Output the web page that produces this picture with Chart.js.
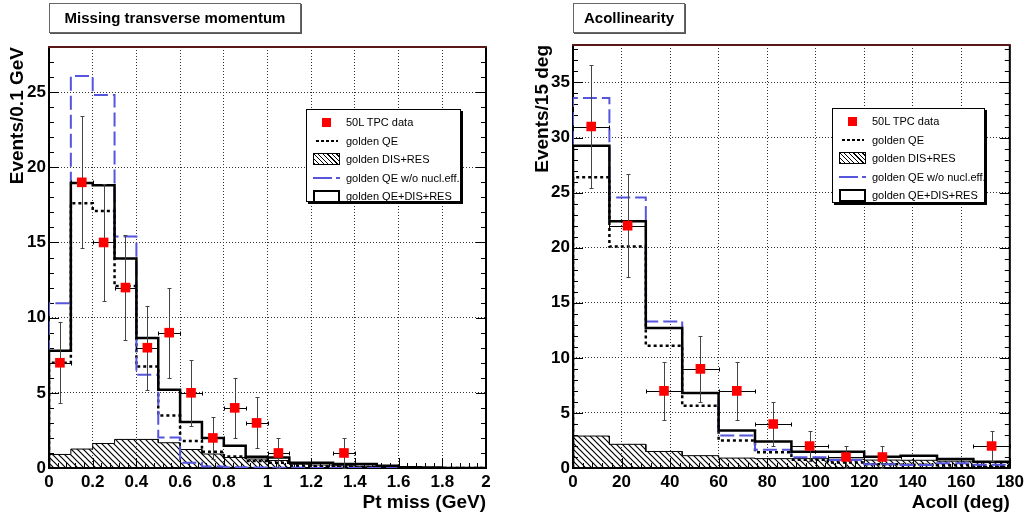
<!DOCTYPE html>
<html>
<head>
<meta charset="utf-8">
<script src="https://cdn.jsdelivr.net/npm/chart.js@4.4.1/dist/chart.umd.min.js"></script>
<style>
  body { margin: 0; background: #fff; font-family: 'Liberation Sans', Arial, sans-serif; }
  #page { position: relative; width: 1028px; height: 518px; overflow: hidden; }
  canvas { position: absolute; top: 0; }
  .title { position: absolute; top: 3px; height: 28px; line-height: 28px; border: 1px solid #666; box-shadow: 1px 1px 0 #555;
           background: #fff; font-weight: bold; font-size: 15px; text-align: center; }
  .legend { position: absolute; border: 1px solid #000; box-shadow: 2px 2px 0 #000; background: #fff; font-size: 11px;
            padding-top: 3px; box-sizing: border-box; }
  .row { position: relative; height: 18.5px; line-height: 18.5px; padding-left: 39px; white-space: nowrap; }
  .sym { position: absolute; left: 6px; top: 50%; width: 27px; }
  .sq { left: 15px; width: 9px; height: 9px; margin-top: -4.5px; background: #f00; }
  .dot { left: 9px; width: 22px; height: 2px; margin-top: -1px; background: repeating-linear-gradient(90deg, #000 0 3px, transparent 3px 5px); }
  .hatch { height: 12px; margin-top: -6px; border: 1px solid #000; box-sizing: border-box;
           background: repeating-linear-gradient(45deg, #000 0 1px, #fff 1px 3.2px); }
  .dash { height: 2px; margin-top: -1px; background: repeating-linear-gradient(90deg, #5555dd 0 19px, transparent 19px 23px); }
  .box { height: 13px; margin-top: -6.5px; border: 2px solid #000; box-sizing: border-box; }
</style>
</head>
<body>
<div id="page">
  <canvas id="ptChart" width="514" height="518" style="left:0"></canvas>
  <canvas id="acChart" width="514" height="518" style="left:514px"></canvas>

  <div class="title" style="left:49px;width:250px">Missing transverse momentum</div>
  <div class="title" style="left:573px;width:110px">Acollinearity</div>

  <div class="legend" style="left:306px;top:109px;width:155px;height:93px">
    <div class="row"><span class="sym sq"></span>50L TPC data</div>
    <div class="row"><span class="sym dot"></span>golden QE</div>
    <div class="row"><span class="sym hatch"></span>golden DIS+RES</div>
    <div class="row"><span class="sym dash"></span>golden QE w/o nucl.eff.</div>
    <div class="row"><span class="sym box"></span>golden QE+DIS+RES</div>
  </div>
  <div class="legend" style="left:832px;top:108px;width:153px;height:95px">
    <div class="row"><span class="sym sq"></span>50L TPC data</div>
    <div class="row"><span class="sym dot"></span>golden QE</div>
    <div class="row"><span class="sym hatch"></span>golden DIS+RES</div>
    <div class="row"><span class="sym dash"></span>golden QE w/o nucl.eff.</div>
    <div class="row"><span class="sym box"></span>golden QE+DIS+RES</div>
  </div>
</div>

<script>
// ---------- missing pT (GeV), bins of 0.1 ----------
const ptEdges = [0, 0.1, 0.2, 0.3, 0.4, 0.5, 0.6, 0.7, 0.8, 0.9, 1.0, 1.1, 1.2, 1.3, 1.4, 1.5, 1.6, 1.7, 1.8, 1.9, 2.0];
const ptDataX = [0.05, 0.15, 0.25, 0.35, 0.45, 0.55, 0.65, 0.75, 0.85, 0.95, 1.05, 1.35];
const ptDataY = [7, 19, 15, 12, 8, 9, 5, 2, 4, 3, 1, 1];
const ptDataErr = [2.7, 4.4, 3.9, 3.5, 2.8, 3.0, 2.2, 1.4, 2.0, 1.7, 1.0, 1.0];
const ptQE = [7.0, 17.6, 17.1, 12.1, 6.75, 3.5, 1.8, 1.08, 0.77, 0.46, 0.35, 0.15, 0.12, 0.08, 0.06, 0.04, 0.02, 0, 0, 0];
const ptDisRes = [0.9, 1.26, 1.63, 1.9, 1.9, 1.68, 1.23, 0.93, 0.7, 0.6, 0.5, 0.25, 0.2, 0.15, 0.12, 0.1, 0.05, 0.03, 0, 0];
const ptQENoNucl = [10.95, 26.07, 24.8, 15.4, 6.2, 2.03, 0.35, 0.1, 0.05, 0.03, 0.02, 0.01, 0, 0, 0, 0, 0, 0, 0, 0];
const ptTotal = [7.8, 18.95, 18.8, 13.94, 8.65, 5.2, 3.06, 2.0, 1.48, 0.74, 0.7, 0.35, 0.35, 0.27, 0.27, 0.15, 0.05, 0.03, 0, 0];
const ptXTicks = [0, 0.2, 0.4, 0.6, 0.8, 1, 1.2, 1.4, 1.6, 1.8, 2];
const ptYTicks = [0, 5, 10, 15, 20, 25];

// ---------- acollinearity (deg), bins of 15 ----------
const acEdges = [0, 15, 30, 45, 60, 75, 90, 105, 120, 135, 150, 165, 180];
const acDataX = [7.5, 22.5, 37.5, 52.5, 67.5, 82.5, 97.5, 112.5, 127.5, 172.5];
const acDataY = [31, 22, 7, 9, 7, 4, 2, 1, 1, 2];
const acDataErr = [5.6, 4.7, 2.6, 3.0, 2.6, 2.0, 1.4, 1.0, 1.0, 1.4];
const acQE = [26.4, 20.1, 11.1, 5.65, 2.5, 1.42, 0.75, 0.5, 0.35, 0.3, 0.25, 0.15];
const acDisRes = [2.9, 2.15, 1.5, 1.12, 0.9, 0.85, 0.85, 0.8, 0.72, 0.7, 0.62, 0.5];
const acQENoNucl = [33.6, 24.55, 13.3, 6.8, 2.95, 1.65, 0.97, 0.73, 0.33, 0.28, 0.43, 0.3];
const acTotal = [29.25, 22.4, 12.7, 6.8, 3.4, 2.4, 1.48, 1.48, 1.03, 1.12, 0.82, 0.57];
const acXTicks = [0, 20, 40, 60, 80, 100, 120, 140, 160, 180];
const acYTicks = [0, 5, 10, 15, 20, 25, 30, 35];

const tickFont = { family: 'Liberation Sans', size: 17, weight: 'bold' };
const titleFont = { family: 'Liberation Sans', size: 19, weight: 'bold' };

// step outline of a histogram from its bin edges
function hist(edges, vals) {
    const pts = [{ x: edges[0], y: 0 }];
    vals.forEach((v, i) => {
        pts.push({ x: edges[i], y: v }, { x: edges[i + 1], y: v });
    });
    pts.push({ x: edges[edges.length - 1], y: 0 });
    return pts;
}

function makeHatch() {
    const c = document.createElement('canvas');
    c.width = c.height = 6;
    const p = c.getContext('2d');
    p.strokeStyle = '#000';
    p.lineWidth = 1.2;
    p.beginPath();
    p.moveTo(-1, -1); p.lineTo(7, 7);
    p.moveTo(-1, 5); p.lineTo(1, 7);
    p.moveTo(5, -1); p.lineTo(7, 1);
    p.stroke();
    return p.createPattern(c, 'repeat');
}

// frame, ROOT-like inner ticks and error bars
const rootFrame = {
    id: 'rootFrame',
    beforeDatasetsDraw(chart, args, opts) {
        const { ctx, chartArea: a, scales: { x, y } } = chart;
        ctx.save();
        ctx.strokeStyle = '#000';
        ctx.lineWidth = 1;
        ctx.beginPath();
        const ny = Math.round((y.max - y.min) / opts.yMinor);
        for (let i = 0; i <= ny; i++) {
            const v = y.min + i * opts.yMinor;
            const py = Math.round(y.getPixelForValue(v)) + 0.5;
            const len = (Math.abs(v / opts.yMajor - Math.round(v / opts.yMajor)) < 1e-6) ? 10 : 5;
            ctx.moveTo(a.left, py); ctx.lineTo(a.left + len, py);
            ctx.moveTo(a.right, py); ctx.lineTo(a.right - len, py);
        }
        const nx = Math.round((x.max - x.min) / opts.xMinor);
        for (let i = 0; i <= nx; i++) {
            const v = x.min + i * opts.xMinor;
            const px = Math.round(x.getPixelForValue(v)) + 0.5;
            const len = (Math.abs(v / opts.xMajor - Math.round(v / opts.xMajor)) < 1e-6) ? 10 : 5;
            ctx.moveTo(px, a.bottom); ctx.lineTo(px, a.bottom - len);
        }
        ctx.stroke();

        ctx.lineWidth = 2;
        ctx.beginPath();
        ctx.moveTo(a.left, a.top); ctx.lineTo(a.left, a.bottom);
        ctx.lineTo(a.right, a.bottom); ctx.lineTo(a.right, a.top);
        ctx.stroke();
        ctx.strokeStyle = '#5a1a1a';
        ctx.beginPath();
        ctx.moveTo(a.left - 1, a.top); ctx.lineTo(a.right + 1, a.top);
        ctx.stroke();
        ctx.restore();
    },
    beforeDatasetDraw(chart, args) {
        if (args.index !== 0) return;
        const { ctx, scales: { x, y } } = chart;
        const ds = chart.data.datasets[0];
        ctx.save();
        ctx.lineWidth = 1;
        ds.data.forEach((p, i) => {
            const px = Math.round(x.getPixelForValue(p.x)) + 0.5;
            const py = Math.round(y.getPixelForValue(p.y)) + 0.5;
            const y1 = Math.round(y.getPixelForValue(p.y - ds.yErr[i])) + 0.5;
            const y2 = Math.round(y.getPixelForValue(p.y + ds.yErr[i])) + 0.5;
            const x1 = Math.round(x.getPixelForValue(p.x - ds.xErr)) + 0.5;
            const x2 = Math.round(x.getPixelForValue(p.x + ds.xErr)) + 0.5;
            ctx.strokeStyle = '#444';
            ctx.beginPath();
            ctx.moveTo(px, y1); ctx.lineTo(px, y2);
            ctx.moveTo(px - 2, y1); ctx.lineTo(px + 2, y1);
            ctx.moveTo(px - 2, y2); ctx.lineTo(px + 2, y2);
            ctx.stroke();
            ctx.strokeStyle = '#000';
            ctx.beginPath();
            ctx.moveTo(x1, py); ctx.lineTo(x2, py);
            ctx.moveTo(x1, py - 2); ctx.lineTo(x1, py + 2);
            ctx.moveTo(x2, py - 2); ctx.lineTo(x2, py + 2);
            ctx.stroke();
        });
        ctx.restore();
    }
};

function axes(o) {
    return {
        x: {
            type: 'linear',
            min: o.xTicks[0],
            max: o.xTicks[o.xTicks.length - 1],
            afterBuildTicks: s => { s.ticks = o.xTicks.map(v => ({ value: v })); },
            afterFit: s => { s.height = 50; },
            grid: { color: '#333', lineWidth: 1, drawTicks: false },
            border: { display: false, dash: [1, 2] },
            ticks: { padding: 4, color: '#000', maxRotation: 0, autoSkip: false, font: tickFont, callback: v => String(v) },
            title: { display: true, text: o.xTitle, align: 'end', color: '#000', font: titleFont, padding: { top: 0, bottom: 4 } }
        },
        y: {
            type: 'linear',
            min: 0,
            max: o.yMax,
            afterBuildTicks: s => { s.ticks = o.yTicks.map(v => ({ value: v })); },
            afterFit: s => { s.width = o.yWidth; },
            grid: { color: '#333', lineWidth: 1, drawTicks: false },
            border: { display: false, dash: [1, 2] },
            ticks: { padding: 3, color: '#000', font: tickFont, callback: v => String(v) },
            title: { display: true, text: o.yTitle, align: 'end', color: '#000', font: titleFont, padding: { top: o.yTitlePad, bottom: 0 } }
        }
    };
}

function datasets(edges, dx, dy, err, xErr, qe, disRes, noNucl, total) {
    return [
        {
            label: '50L TPC data',
            data: dx.map((v, i) => ({ x: v, y: dy[i] })),
            yErr: err,
            xErr: xErr,
            showLine: false,
            pointStyle: 'rect',
            pointRadius: 6.8,
            backgroundColor: '#ff0000',
            borderWidth: 0
        },
        { label: 'golden QE+DIS+RES', data: hist(edges, total), borderColor: '#000', borderWidth: 2.5, pointRadius: 0, fill: false },
        { label: 'golden QE w/o nucl.eff.', data: hist(edges, noNucl), borderColor: '#5555dd', borderWidth: 2, borderDash: [14, 5], pointRadius: 0, fill: false },
        { label: 'golden QE', data: hist(edges, qe), borderColor: '#000', borderWidth: 2.5, borderDash: [3, 3], pointRadius: 0, fill: false },
        { label: 'golden DIS+RES', data: hist(edges, disRes), borderColor: '#000', borderWidth: 1, pointRadius: 0, fill: 'origin', backgroundColor: makeHatch() }
    ];
}

const common = {
    responsive: false,
    animation: false,
    events: [],
    elements: { line: { tension: 0, borderJoinStyle: 'miter', borderCapStyle: 'butt' } },
};

new Chart(document.getElementById('ptChart'), {
    type: 'line',
    data: { datasets: datasets(ptEdges, ptDataX, ptDataY, ptDataErr, 0.05, ptQE, ptDisRes, ptQENoNucl, ptTotal) },
    plugins: [rootFrame],
    options: {
        ...common,
        layout: { padding: { left: 0, top: 47, right: 28, bottom: 0 } },
        scales: axes({ xTicks: ptXTicks, yTicks: ptYTicks, yMax: 28, yWidth: 49, yTitlePad: 6,
                       xTitle: 'Pt miss (GeV)', yTitle: 'Events/0.1 GeV' }),
        plugins: {
            legend: { display: false },
            tooltip: { enabled: false },
            rootFrame: { xMinor: 0.04, xMajor: 0.2, yMinor: 1, yMajor: 5 }
        }
    }
});

new Chart(document.getElementById('acChart'), {
    type: 'line',
    data: { datasets: datasets(acEdges, acDataX, acDataY, acDataErr, 7.5, acQE, acDisRes, acQENoNucl, acTotal) },
    plugins: [rootFrame],
    options: {
        ...common,
        layout: { padding: { left: 0, top: 45, right: 17, bottom: 0 } },
        scales: axes({ xTicks: acXTicks, yTicks: acYTicks, yMax: 38.4, yWidth: 59, yTitlePad: 17,
                       xTitle: 'Acoll (deg)', yTitle: 'Events/15 deg' }),
        plugins: {
            legend: { display: false },
            tooltip: { enabled: false },
            rootFrame: { xMinor: 4, xMajor: 20, yMinor: 1, yMajor: 5 }
        }
    }
});
</script>
</body>
</html>
